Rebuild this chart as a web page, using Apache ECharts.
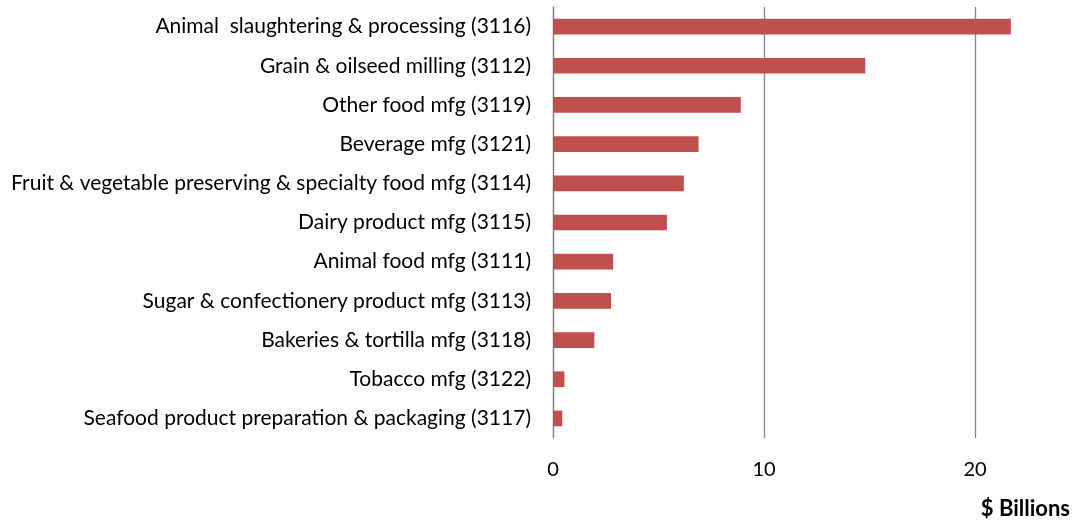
<!DOCTYPE html>
<html>
<head>
<meta charset="utf-8">
<script src="https://cdn.jsdelivr.net/npm/echarts@6/dist/echarts.min.js"></script>
<style>
  html, body { margin: 0; padding: 0; background: #fff; }
  #chart { width: 1075px; height: 520px; }
</style>
</head>
<body>
<div id="chart"></div>
<script>
// industries, top to bottom as in the picture
const industries = [
  "Animal  slaughtering & processing (3116)",
  "Grain & oilseed milling (3112)",
  "Other food mfg (3119)",
  "Beverage mfg (3121)",
  "Fruit & vegetable preserving & specialty food mfg (3114)",
  "Dairy product mfg (3115)",
  "Animal food mfg (3111)",
  "Sugar & confectionery product mfg (3113)",
  "Bakeries & tortilla mfg (3118)",
  "Tobacco mfg (3122)",
  "Seafood product preparation & packaging (3117)"
];
// $ billions
const values = [21.7, 14.8, 8.9, 6.9, 6.2, 5.4, 2.85, 2.75, 1.96, 0.54, 0.44];
const xTicks = [0, 10, 20];
const unitLabel = "$ Billions";

const font = "Lato, 'DejaVu Sans', sans-serif";
const gridColor = "#868686";
const chart = echarts.init(document.getElementById("chart"));

chart.setOption({
  animation: false,
  title: {
    text: unitLabel,
    right: 0,
    top: 493,
    textStyle: { fontFamily: font, fontSize: 22, fontWeight: "bold", color: "#000" }
  },
  // plot runs off the right edge of the picture, like the original
  grid: { left: 553, right: 0, top: 7, bottom: 82, containLabel: false },
  xAxis: {
    type: "value",
    min: 0,
    max: 24.74,
    interval: 10,
    axisLine: { show: false },
    axisTick: { show: false },
    axisLabel: {
      showMaxLabel: false,
      margin: 22,
      fontFamily: font,
      fontSize: 20,
      color: "#000",
      formatter: (v) => (xTicks.includes(v) ? String(v) : "")
    },
    // last line sits on the cut edge -> hide it
    splitLine: {
      show: true,
      lineStyle: { color: [gridColor, gridColor, gridColor, "rgba(0,0,0,0)"], width: 1.3 }
    }
  },
  yAxis: {
    type: "category",
    inverse: true,
    data: industries,
    axisLine: { show: true, lineStyle: { color: gridColor, width: 1.3 } },
    axisTick: { show: false },
    axisLabel: {
      margin: 22,
      fontFamily: font,
      fontSize: 21,
      color: "#000"
    }
  },
  series: [
    {
      type: "bar",
      data: values,
      barWidth: "40%",
      itemStyle: { color: "#C0504D" }
    }
  ]
});
</script>
</body>
</html>
